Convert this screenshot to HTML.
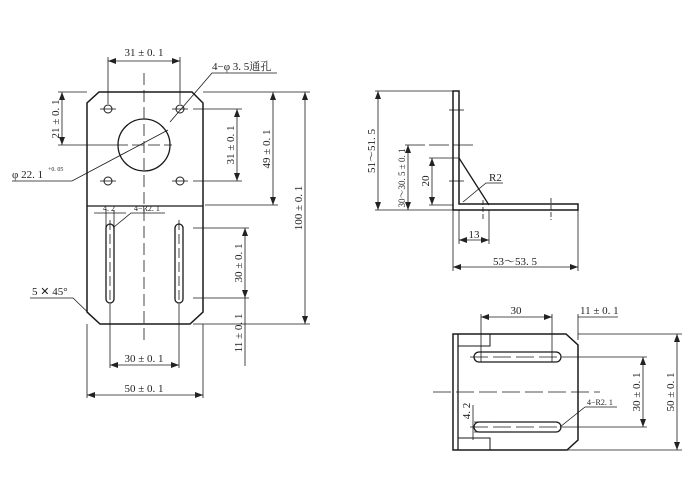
<!DOCTYPE html>
<html><head><meta charset="utf-8"><style>
html,body{margin:0;padding:0;background:#fff}
svg{display:block}
text{font-family:"Liberation Serif","Noto Serif CJK SC",serif;font-size:11px;fill:#222}
</style></head><body>
<svg width="700" height="500" viewBox="0 0 700 500" xmlns="http://www.w3.org/2000/svg">
<defs>
<marker id="a" markerWidth="8" markerHeight="6" refX="8" refY="3" orient="auto-start-reverse" markerUnits="userSpaceOnUse"><path d="M0,0 L8,3 L0,6 z" fill="#222"/></marker>
</defs>
<g stroke="#1a1a1a" fill="none" stroke-width="1">
<path d="M99,92 L192,92 L203,103 L203,312 L190,324 L100,324 L87,312 L87,103 Z" stroke-width="1.5"/>
<line x1="87" y1="206" x2="203" y2="206" stroke-width="1.3"/>
<circle cx="144" cy="145" r="26" stroke-width="1.3"/>
<circle cx="108" cy="109" r="4"/><circle cx="180" cy="109" r="4"/>
<circle cx="108" cy="181" r="4"/><circle cx="180" cy="181" r="4"/>
<g stroke-width="0.8">
<line x1="100" y1="109" x2="116" y2="109"/><line x1="172" y1="109" x2="188" y2="109"/>
<line x1="100" y1="181" x2="116" y2="181"/><line x1="172" y1="181" x2="188" y2="181"/>
<line x1="144" y1="73" x2="144" y2="345" stroke-dasharray="12,5"/>
<line x1="110" y1="220" x2="110" y2="306" stroke-dasharray="10,4"/>
<line x1="179" y1="220" x2="179" y2="306" stroke-dasharray="10,4"/>
<line x1="116" y1="145" x2="172" y2="145" stroke-dasharray="12,4"/>
</g>
<rect x="106" y="224" width="8" height="79" rx="4" stroke-width="1.3"/>
<rect x="175" y="224" width="8" height="79" rx="4" stroke-width="1.3"/>
<g stroke-width="0.8">
<line x1="108" y1="57" x2="108" y2="104"/><line x1="180" y1="57" x2="180" y2="104"/>
<line x1="108" y1="61" x2="180" y2="61" marker-start="url(#a)" marker-end="url(#a)"/>
<polyline points="277,73 212,73 170,122"/>
<line x1="58" y1="92" x2="87" y2="92"/><line x1="58" y1="145" x2="116" y2="145"/>
<line x1="62" y1="92" x2="62" y2="145" marker-start="url(#a)" marker-end="url(#a)"/>
<line x1="203" y1="92" x2="310" y2="92"/>
<line x1="193" y1="109" x2="242" y2="109"/><line x1="193" y1="181" x2="242" y2="181"/>
<line x1="237" y1="109" x2="237" y2="181" marker-start="url(#a)" marker-end="url(#a)"/>
<line x1="205" y1="205" x2="278" y2="205"/>
<line x1="273" y1="92" x2="273" y2="205" marker-start="url(#a)" marker-end="url(#a)"/>
<line x1="193" y1="324" x2="310" y2="324"/>
<line x1="305" y1="92" x2="305" y2="324" marker-start="url(#a)" marker-end="url(#a)"/>
<line x1="193" y1="228" x2="249" y2="228"/><line x1="193" y1="298" x2="249" y2="298"/>
<line x1="245" y1="228" x2="245" y2="298" marker-start="url(#a)" marker-end="url(#a)"/>
<line x1="245" y1="298" x2="245" y2="366"/>
<polyline points="12,181 72,181 168,130"/>
<polyline points="30,298 73,298 100,324"/>
<line x1="110" y1="306" x2="110" y2="368"/><line x1="179" y1="306" x2="179" y2="368"/>
<line x1="110" y1="365" x2="179" y2="365" marker-start="url(#a)" marker-end="url(#a)"/>
<line x1="87" y1="324" x2="87" y2="398"/><line x1="203" y1="324" x2="203" y2="398"/>
<line x1="87" y1="395" x2="203" y2="395" marker-start="url(#a)" marker-end="url(#a)"/>
<line x1="94" y1="213" x2="126" y2="213"/>
<line x1="106" y1="210" x2="106" y2="228"/><line x1="114" y1="210" x2="114" y2="228"/>
<polyline points="165,213 131,213 114,227"/>
</g>

<path d="M453,91 L459,91 L459,204 L578,204 L578,210 L453,210 Z" stroke-width="1.5"/>
<line x1="459" y1="158" x2="489" y2="205" stroke-width="1.3"/>
<g stroke-width="0.8">
<line x1="375" y1="91" x2="453" y2="91"/><line x1="375" y1="210" x2="453" y2="210"/>
<line x1="378" y1="91" x2="378" y2="210" marker-start="url(#a)" marker-end="url(#a)"/>
<line x1="405" y1="145" x2="473" y2="145" stroke-dasharray="20,4"/>
<line x1="408" y1="145" x2="408" y2="210" marker-start="url(#a)" marker-end="url(#a)"/>
<line x1="429" y1="158" x2="459" y2="158"/><line x1="429" y1="205" x2="453" y2="205"/>
<line x1="432" y1="158" x2="432" y2="205" marker-start="url(#a)" marker-end="url(#a)"/>
<line x1="449" y1="110" x2="464" y2="110"/><line x1="449" y1="181" x2="464" y2="181"/>
<line x1="483" y1="200" x2="483" y2="220" stroke-dasharray="5,2"/>
<line x1="551" y1="198" x2="551" y2="220" stroke-dasharray="5,2"/>
<polyline points="503,183 486,183 463,202"/>
<line x1="459" y1="210" x2="459" y2="244"/><line x1="489" y1="210" x2="489" y2="244"/>
<line x1="459" y1="240" x2="489" y2="240" marker-start="url(#a)" marker-end="url(#a)"/>
<line x1="453" y1="210" x2="453" y2="271"/><line x1="578" y1="210" x2="578" y2="271"/>
<line x1="453" y1="267" x2="578" y2="267" marker-start="url(#a)" marker-end="url(#a)"/>
</g>

<path d="M453,334 L566,334 L578,345 L578,440 L567,450 L453,450 Z" stroke-width="1.5"/>
<line x1="458" y1="334" x2="458" y2="450" stroke-width="1.3"/>
<polyline points="458,346 490,346 490,334"/>
<polyline points="458,438 490,438 490,450"/>
<rect x="474" y="352" width="87" height="10" rx="5" stroke-width="1.3"/>
<rect x="474" y="422" width="87" height="10" rx="5" stroke-width="1.3"/>
<g stroke-width="0.8">
<line x1="433" y1="392" x2="600" y2="392" stroke-dasharray="18,5"/>
<line x1="470" y1="357" x2="566" y2="357" stroke-dasharray="18,5"/>
<line x1="470" y1="427" x2="566" y2="427" stroke-dasharray="18,5"/>
<line x1="481" y1="314" x2="481" y2="362"/><line x1="552" y1="314" x2="552" y2="362"/>
<line x1="481" y1="317" x2="552" y2="317" marker-start="url(#a)" marker-end="url(#a)"/>
<line x1="578" y1="314" x2="578" y2="340"/>
<polyline points="618,317 578,317"/>
<line x1="566" y1="357" x2="647" y2="357"/><line x1="566" y1="427" x2="647" y2="427"/>
<line x1="643" y1="357" x2="643" y2="427" marker-start="url(#a)" marker-end="url(#a)"/>
<line x1="578" y1="334" x2="682" y2="334"/><line x1="567" y1="450" x2="682" y2="450"/>
<line x1="677" y1="334" x2="677" y2="450" marker-start="url(#a)" marker-end="url(#a)"/>
<line x1="474" y1="422" x2="494" y2="422"/><line x1="474" y1="432" x2="494" y2="432"/>
<line x1="473" y1="405" x2="473" y2="440"/>
<polyline points="617,407 585,407 560,427"/>
</g>
</g>
<text x="144" y="56" text-anchor="middle">31 ± 0. 1</text>
<text x="212" y="70">4−φ 3. 5通孔</text>
<text transform="translate(59,119) rotate(-90)" text-anchor="middle">21 ± 0. 1</text>
<text transform="translate(234,145) rotate(-90)" text-anchor="middle">31 ± 0. 1</text>
<text transform="translate(270,149) rotate(-90)" text-anchor="middle">49 ± 0. 1</text>
<text transform="translate(302,208) rotate(-90)" text-anchor="middle">100 ± 0. 1</text>
<text transform="translate(242,263) rotate(-90)" text-anchor="middle">30 ± 0. 1</text>
<text transform="translate(242,333) rotate(-90)" text-anchor="middle">11 ± 0. 1</text>
<text x="12" y="178">φ 22. 1</text><text x="48" y="171" style="font-size:6px">+0. 05</text>
<text x="32" y="295">5 ✕ 45°</text>
<text x="103" y="211" style="font-size:8px">4. 2</text>
<text x="134" y="211" style="font-size:8px">4−R2. 1</text>
<text x="144" y="362" text-anchor="middle">30 ± 0. 1</text>
<text x="144" y="392" text-anchor="middle">50 ± 0. 1</text>
<text transform="translate(375,151) rotate(-90)" text-anchor="middle">51～51. 5</text>
<text transform="translate(405,178) rotate(-90)" text-anchor="middle" style="font-size:9px">30～30. 5 ± 0. 1</text>
<text transform="translate(429,181) rotate(-90)" text-anchor="middle">20</text>
<text x="489" y="181">R2</text>
<text x="474" y="238" text-anchor="middle">13</text>
<text x="515" y="265" text-anchor="middle">53～53. 5</text>
<text x="516" y="314" text-anchor="middle">30</text>
<text x="580" y="314">11 ± 0. 1</text>
<text transform="translate(640,392) rotate(-90)" text-anchor="middle">30 ± 0. 1</text>
<text transform="translate(674,392) rotate(-90)" text-anchor="middle">50 ± 0. 1</text>
<text transform="translate(470,411) rotate(-90)" text-anchor="middle">4. 2</text>
<text x="587" y="405" style="font-size:8px">4−R2. 1</text>
</svg>
</body></html>
